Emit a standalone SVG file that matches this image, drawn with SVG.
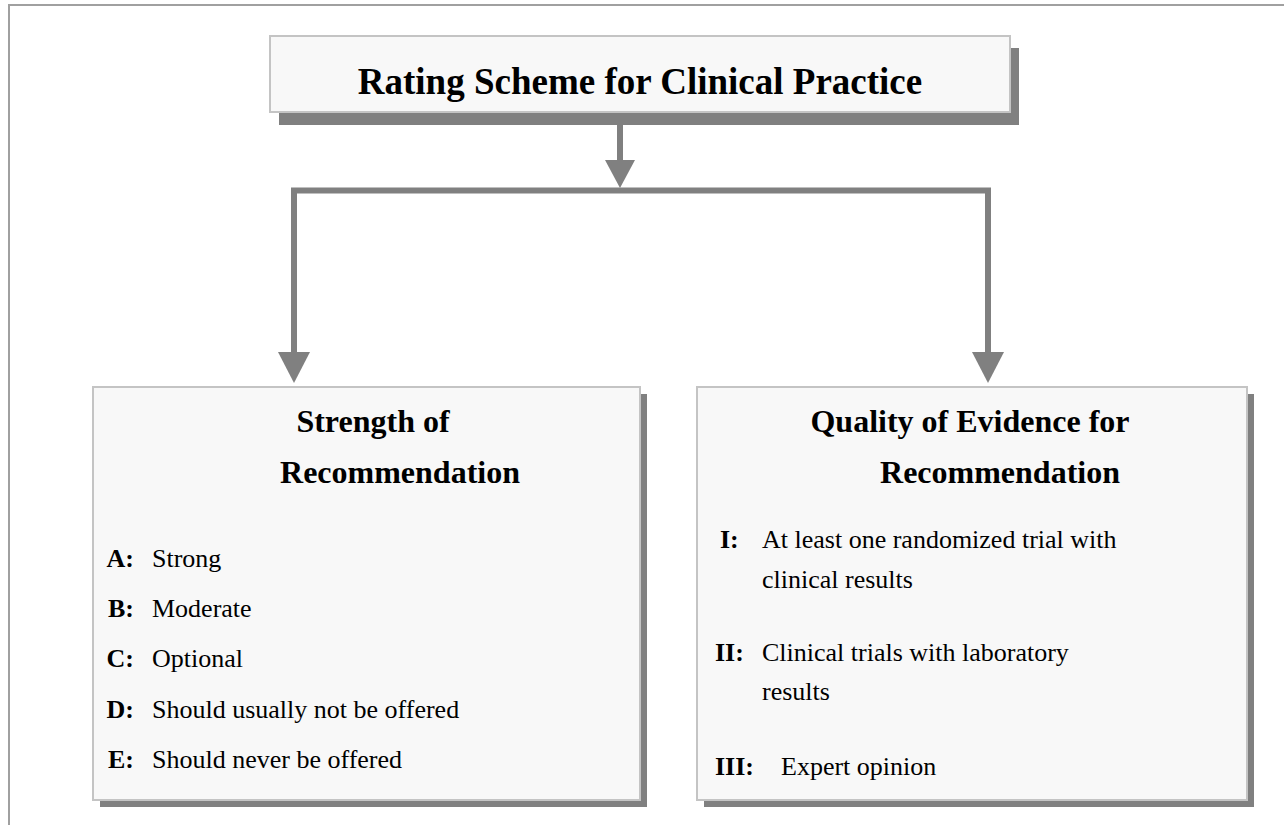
<svg xmlns="http://www.w3.org/2000/svg" width="1284" height="825" viewBox="0 0 1284 825">
<style>
.box{fill:#f8f8f8;stroke:#c4c4c4;stroke-width:2}
.sh{fill:#808080}
.t{font-family:"Liberation Serif","Times New Roman",serif;fill:#000}
.h{font-weight:bold;font-size:32px}
.i{font-size:26px}
.b{font-weight:bold}
.c{fill:none;stroke:#808080;stroke-width:6;stroke-linejoin:miter}
.a{fill:#808080}
</style>
<rect width="1284" height="825" fill="#ffffff"/>
<path d="M9,825 V5 H1284" fill="none" stroke="#a0a0a0" stroke-width="2"/>
<g id="connectors">
<line class="c" x1="620" y1="125" x2="620" y2="162"/>
<polygon class="a" points="605,160 635,160 620,188"/>
<path class="c" d="M294,354 V190.5 H988 V354"/>
<polygon class="a" points="278,352 310,352 294,383"/>
<polygon class="a" points="972,352 1004,352 988,383"/>
</g>
<g id="title">
<rect class="sh" x="279" y="48" width="740" height="77"/>
<rect class="box" x="270" y="36" width="740" height="76"/>
<text class="t b" x="640" y="94" font-size="37" text-anchor="middle">Rating Scheme for Clinical Practice</text>
</g>
<g id="strength">
<rect class="sh" x="100" y="394" width="547" height="413"/>
<rect class="box" x="93" y="387" width="547" height="413"/>
<text class="t h" x="373" y="432" text-anchor="middle">Strength of</text>
<text class="t h" x="400" y="483" text-anchor="middle">Recommendation</text>
<text class="t i b" x="134" y="567" text-anchor="end">A:</text><text class="t i" x="152" y="567">Strong</text>
<text class="t i b" x="134" y="617" text-anchor="end">B:</text><text class="t i" x="152" y="617">Moderate</text>
<text class="t i b" x="134" y="667" text-anchor="end">C:</text><text class="t i" x="152" y="667">Optional</text>
<text class="t i b" x="134" y="718" text-anchor="end">D:</text><text class="t i" x="152" y="718">Should usually not be offered</text>
<text class="t i b" x="134" y="768" text-anchor="end">E:</text><text class="t i" x="152" y="768">Should never be offered</text>
</g>
<g id="quality">
<rect class="sh" x="704" y="394" width="550" height="413"/>
<rect class="box" x="697" y="387" width="550" height="413"/>
<text class="t h" x="970" y="432" text-anchor="middle">Quality of Evidence for</text>
<text class="t h" x="1000" y="483" text-anchor="middle">Recommendation</text>
<text class="t i b" x="720" y="548">I:</text><text class="t i" x="762" y="548">At least one randomized trial with</text>
<text class="t i" x="762" y="588">clinical results</text>
<text class="t i b" x="715" y="661">II:</text><text class="t i" x="762" y="661">Clinical trials with laboratory</text>
<text class="t i" x="762" y="700">results</text>
<text class="t i b" x="715" y="775">III:</text><text class="t i" x="781" y="775">Expert opinion</text>
</g>
</svg>
